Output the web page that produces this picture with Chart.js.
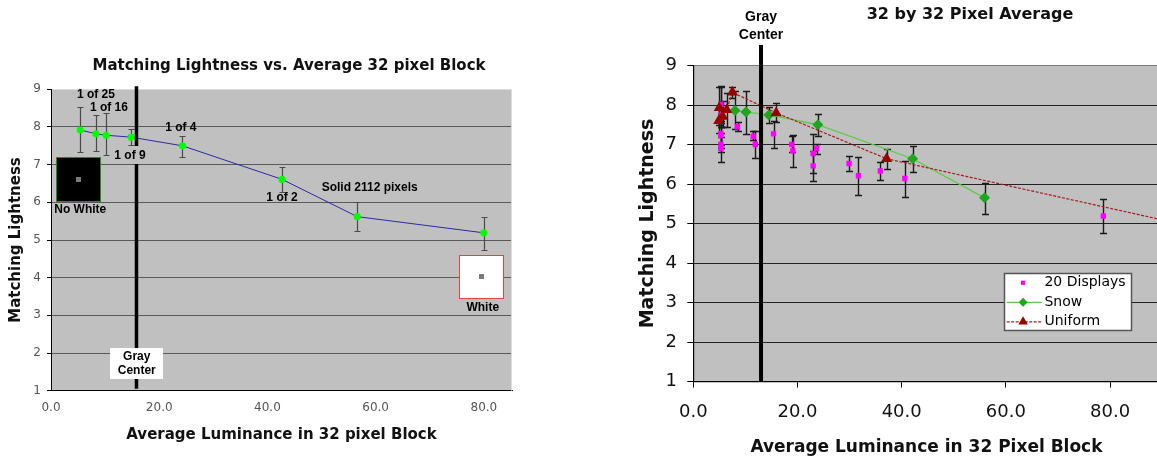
<!DOCTYPE html>
<html><head><meta charset="utf-8">
<script src="https://cdn.jsdelivr.net/npm/chart.js@4.4.1/dist/chart.umd.min.js"></script>
<style>
html,body{margin:0;padding:0;background:#fff;width:1157px;height:460px;overflow:hidden;position:relative}
#c1{position:absolute;left:0;top:0}
#c2{position:absolute;left:600px;top:0}
</style></head><body>
<canvas id="c1" width="578" height="460"></canvas>
<canvas id="c2" width="740" height="460"></canvas>
<script>
// ---------- Left chart data ----------
const leftLum   = [5.4, 8.3, 10.2, 14.8, 24.3, 42.7, 56.6, 80.0];
const leftLight = [7.92, 7.82, 7.78, 7.73, 7.50, 6.61, 5.62, 5.19];
const leftHigh  = [8.52, 8.31, 8.36, 7.94, 7.77, 6.93, 6.02, 5.61];
const leftLow   = [7.33, 7.35, 7.25, 7.52, 7.19, 6.28, 5.23, 4.73];
const leftNotes = ['1 of 25', '1 of 16', '1 of 9', '1 of 4', '1 of 2', 'Solid 2112 pixels', 'No White', 'White', 'Gray\nCenter'];

// ---------- Right chart data ----------
const displaysLum   = [5.3, 5.3, 5.3, 5.3, 5.3, 5.3, 8.5, 11.5, 11.9, 15.4, 18.9, 19.1, 23.0, 23.0, 23.7, 29.9, 31.7, 35.9, 40.6, 78.7];
const displaysLight = [8.02, 7.75, 7.28, 7.22, 7.01, 6.90, 7.45, 7.21, 7.00, 7.27, 7.00, 6.84, 6.77, 6.46, 6.90, 6.52, 6.21, 6.33, 6.14, 5.19];
const displaysHigh  = [8.47, 8.45, 7.55, 7.45, 7.30, 7.20, 7.58, 7.34, 7.33, 7.60, 7.22, 7.25, 7.26, 6.83, 7.02, 6.70, 6.68, 6.55, 6.58, 5.63];
const displaysLow   = [7.60, 7.45, 7.00, 6.90, 6.80, 6.56, 7.34, 7.12, 6.66, 6.92, 6.80, 6.43, 6.28, 6.08, 6.75, 6.33, 5.72, 6.10, 5.68, 4.76];

const snowLum   = [8.0, 10.1, 14.5, 23.9, 42.1, 55.9];
const snowLight = [7.86, 7.82, 7.75, 7.50, 6.64, 5.65];
const snowHigh  = [8.35, 8.36, 7.96, 7.78, 6.96, 6.02];
const snowLow   = [7.38, 7.26, 7.55, 7.21, 6.31, 5.25];

const uniformLum   = [4.9, 5.0, 5.65, 6.4, 7.5, 15.9, 37.1, 100];
const uniformLight = [7.60, 7.93, 7.71, 7.88, 8.32, 7.80, 6.64, 4.80];
const uniformHigh  = [7.90, 8.45, 8.10, 8.30, 8.45, 8.05, 6.88, null];
const uniformLow   = [7.30, 7.50, 7.45, 7.45, 8.18, 7.58, 6.38, null];

const seriesNames = ['20 Displays', 'Snow', 'Uniform'];
const leftTitle  = 'Matching Lightness vs. Average 32 pixel Block';
const rightTitle = '32 by 32 Pixel Average';
const yTitle = 'Matching Lightness';
const leftXTitle  = 'Average Luminance in 32 pixel Block';
const rightXTitle = 'Average Luminance in 32 Pixel Block';

const pts = (xs, ys) => xs.map((x, i) => ({x, y: ys[i]}));

// ---------- plugins ----------
const plotBg = {
  id: 'plotBg',
  beforeDraw(chart, args, o) {
    const {ctx, chartArea: a} = chart;
    ctx.save();
    ctx.fillStyle = o.color;
    ctx.fillRect(a.left, a.top, a.right - a.left, a.bottom - a.top);
    ctx.restore();
  },
  beforeDatasetsDraw(chart, args, o) {
    if (!o.edge) return;
    const {ctx, chartArea: a} = chart;
    ctx.save();
    ctx.strokeStyle = o.edge; ctx.lineWidth = 1;
    ctx.beginPath(); ctx.moveTo(Math.round(a.right) - 0.5, a.top); ctx.lineTo(Math.round(a.right) - 0.5, a.bottom); ctx.stroke();
    ctx.restore();
  }
};

const errorBars = {
  id: 'errorBars',
  beforeDatasetsDraw(chart, args, o) {
    const {ctx} = chart; const ys = chart.scales.y;
    ctx.save();
    ctx.strokeStyle = o.color; ctx.lineWidth = o.width;
    o.sets.forEach(s => {
      const meta = chart.getDatasetMeta(s.dataset);
      meta.data.forEach((pt, i) => {
        const hi = s.high[i], lo = s.low[i];
        if (hi == null || lo == null) return;
        const x = Math.round(pt.x) + 0.5;
        const y1 = Math.round(ys.getPixelForValue(hi)) + 0.5, y2 = Math.round(ys.getPixelForValue(lo)) + 0.5;
        ctx.beginPath();
        ctx.moveTo(x, y1); ctx.lineTo(x, y2);
        ctx.moveTo(x - o.cap, y1); ctx.lineTo(x + o.cap, y1);
        ctx.moveTo(x - o.cap, y2); ctx.lineTo(x + o.cap, y2);
        ctx.stroke();
      });
    });
    ctx.restore();
  }
};

const notes = {
  id: 'notes',
  afterDatasetsDraw(chart, args, o) {
    const {ctx} = chart; const xs = chart.scales.x, ys = chart.scales.y;
    const px = v => xs.getPixelForValue(v), py = v => ys.getPixelForValue(v);
    ctx.save();
    (o.lines || []).forEach(l => {
      ctx.strokeStyle = l.color; ctx.lineWidth = l.width;
      ctx.beginPath(); ctx.moveTo(px(l.x), py(l.y1)); ctx.lineTo(px(l.x), py(l.y2)); ctx.stroke();
    });
    (o.boxes || []).forEach(b => {
      const x1 = Math.round(px(b.x1)), x2 = Math.round(px(b.x2)), y1 = Math.round(py(b.y1)), y2 = Math.round(py(b.y2));
      ctx.fillStyle = b.fill; ctx.fillRect(x1, y1, x2 - x1, y2 - y1);
      if (b.stroke) { ctx.strokeStyle = b.stroke; ctx.lineWidth = 1; ctx.strokeRect(x1 + 0.5, y1 + 0.5, x2 - x1 - 1, y2 - y1 - 1); }
      if (b.dot) { const cx = Math.round((x1 + x2) / 2), cy = Math.round((y1 + y2) / 2); ctx.fillStyle = b.dot; ctx.fillRect(cx - 3, cy - 3, 5, 5); }
    });
    (o.labels || []).forEach(t => {
      ctx.font = t.font; ctx.fillStyle = t.color || '#000';
      ctx.textAlign = 'center'; ctx.textBaseline = 'middle';
      const lines = t.text.split('\n');
      lines.forEach((s, k) => ctx.fillText(s, px(t.x), py(t.y) + (k - (lines.length - 1) / 2) * (t.lh || 14)));
    });
    if (o.legend) {
      const L = o.legend;
      const x1 = Math.round(px(L.x1)), x2 = Math.round(px(L.x2)), y1 = Math.round(py(L.y1)), y2 = Math.round(py(L.y2));
      ctx.fillStyle = '#fff'; ctx.fillRect(x1, y1, x2 - x1, y2 - y1);
      ctx.strokeStyle = '#555'; ctx.lineWidth = 1.5; ctx.strokeRect(x1 + 0.5, y1 + 0.5, x2 - x1 - 1, y2 - y1 - 1);
      chart.data.datasets.forEach((ds, i) => {
        const yy = py(L.rows[i]);
        if (ds.showLine) {
          ctx.save();
          ctx.strokeStyle = ds.borderColor; ctx.lineWidth = ds.borderWidth;
          ctx.setLineDash(ds.borderDash || []);
          ctx.beginPath(); ctx.moveTo(px(L.lineFrom), yy); ctx.lineTo(px(L.lineTo), yy); ctx.stroke();
          ctx.restore();
        }
        ctx.fillStyle = ds.pointBackgroundColor; ctx.strokeStyle = ds.pointBorderColor;
        Chart.helpers.drawPoint(ctx, {pointStyle: ds.pointStyle, rotation: 0, radius: L.radius[i], borderWidth: 0}, px(L.marker), yy);
        ctx.fillStyle = '#000'; ctx.font = L.font; ctx.textAlign = 'left'; ctx.textBaseline = 'middle';
        ctx.fillText(ds.label, px(L.text), yy);
      });
    }
    ctx.restore();
  }
};

const sans = 'DejaVu Sans';
const annFont = 'bold 12px "Liberation Sans", Arial, sans-serif';
const spacer = w => ({ position: 'right', display: true, ticks: { display: false }, grid: { display: false, drawTicks: false }, border: { display: false }, afterFit: s => { s.width = w; } });

// ---------- Left chart ----------
new Chart(document.getElementById('c1'), {
  type: 'scatter',
  data: { datasets: [{
    label: 'Snow', data: pts(leftLum, leftLight), showLine: true,
    borderColor: '#2a2aa6', borderWidth: 1, tension: 0,
    pointStyle: 'circle', pointRadius: 3.6, pointBackgroundColor: '#00ff00', pointBorderColor: '#00ff00', pointBorderWidth: 0
  }]},
  plugins: [plotBg, errorBars, notes],
  options: {
    responsive: false, animation: false, events: [],
    layout: { padding: 0 },
    plugins: {
      legend: { display: false }, tooltip: { enabled: false },
      title: { display: true, text: leftTitle, color: '#111', font: { family: sans, size: 15, weight: 'bold', lineHeight: 1.2 }, padding: { top: 57, bottom: 14.3 } },
      plotBg: { color: '#c0c0c0', edge: '#dcdcdc' },
      errorBars: { color: '#4a4a4a', width: 1.2, cap: 3, sets: [{ dataset: 0, high: leftHigh, low: leftLow }] },
      notes: {
        lines: [{ x: 15.8, y1: 9.08, y2: 1.05, width: 3.5, color: '#000' }],
        boxes: [
          { x1: 11.27, x2: 17.92, y1: 7.50, y2: 7.02, fill: '#c0c0c0' },
          { x1: 10.9, x2: 20.7, y1: 2.13, y2: 1.31, fill: '#fff' },
          { x1: 0.92, x2: 9.24, y1: 7.20, y2: 6.01, fill: '#000', stroke: '#1f8f1f', dot: '#7a7a7a' },
          { x1: 75.4, x2: 83.7, y1: 4.60, y2: 3.43, fill: '#fff', stroke: '#e04545', dot: '#7a7a7a' }
        ],
        labels: [
          { text: leftNotes[0], x: 8.3, y: 8.87, font: annFont },
          { text: leftNotes[1], x: 10.7, y: 8.50, font: annFont },
          { text: leftNotes[2], x: 14.6, y: 7.24, font: annFont },
          { text: leftNotes[3], x: 24.0, y: 7.97, font: annFont },
          { text: leftNotes[4], x: 42.7, y: 6.11, font: annFont },
          { text: leftNotes[5], x: 58.9, y: 6.38, font: annFont },
          { text: leftNotes[6], x: 5.4, y: 5.80, font: annFont },
          { text: leftNotes[7], x: 79.8, y: 3.20, font: annFont },
          { text: leftNotes[8], x: 15.85, y: 1.71, font: annFont, lh: 14 }
        ]
      }
    },
    scales: {
      x: {
        type: 'linear', min: 0, max: 85.2,
        ticks: { stepSize: 20, includeBounds: false, maxRotation: 0, padding: 10, color: '#555', font: { family: sans, size: 12 }, callback: v => v.toFixed(1) },
        grid: { display: false, drawTicks: false },
        border: { display: true, color: '#000', width: 1 },
        title: { display: true, text: leftXTitle, color: '#111', font: { family: sans, size: 15, weight: 'bold', lineHeight: 1.2 }, padding: { top: 0, bottom: 16 } },
        afterFit: s => { s.height = 69.3; }
      },
      y: {
        type: 'linear', min: 1, max: 9,
        ticks: { stepSize: 1, padding: 6, color: '#555', font: { family: sans, size: 12 } },
        grid: { color: c => (c.tick && c.tick.value === 9) ? '#dcdcdc' : '#5a5a5a', lineWidth: 1, drawTicks: true, tickLength: 4, tickColor: '#000' },
        border: { display: true, color: '#000', width: 1 },
        title: { display: true, text: yTitle, color: '#111', font: { family: sans, size: 15, weight: 'bold', lineHeight: 1.2 }, padding: { top: 7, bottom: 0 } },
        afterFit: s => { s.width = 51; }
      },
      yR: spacer(66)
    }
  }
});

// ---------- Right chart ----------
new Chart(document.getElementById('c2'), {
  type: 'scatter',
  data: { datasets: [
    { label: seriesNames[0], data: pts(displaysLum, displaysLight), showLine: false, order: 2,
      pointStyle: 'rect', pointRadius: 3.8, pointBackgroundColor: '#ff00ff', pointBorderColor: '#ff00ff', pointBorderWidth: 0 },
    { label: seriesNames[1], data: pts(snowLum, snowLight), showLine: true, order: 1,
      borderColor: '#5ccc48', borderWidth: 1.3, tension: 0,
      pointStyle: 'rectRot', pointRadius: 5.5, pointBackgroundColor: '#1fa51f', pointBorderColor: '#1fa51f', pointBorderWidth: 0 },
    { label: seriesNames[2], data: pts(uniformLum, uniformLight), showLine: true, order: 0,
      borderColor: '#a81c1c', borderWidth: 1.2, borderDash: [3, 1.5], tension: 0,
      pointStyle: 'triangle', pointRadius: 6.5, pointBackgroundColor: '#990000', pointBorderColor: '#990000', pointBorderWidth: 0 }
  ]},
  plugins: [plotBg, errorBars, notes],
  options: {
    responsive: false, animation: false, events: [],
    layout: { padding: 0 },
    plugins: {
      legend: { display: false }, tooltip: { enabled: false },
      title: { display: true, text: rightTitle, color: '#111', font: { family: sans, size: 16, weight: 'bold', lineHeight: 1.2 }, padding: { top: 5.4, bottom: 40.9 } },
      plotBg: { color: '#c0c0c0' },
      errorBars: { color: '#1a1a1a', width: 1.4, cap: 3.5, sets: [
        { dataset: 0, high: displaysHigh, low: displaysLow },
        { dataset: 1, high: snowHigh, low: snowLow },
        { dataset: 2, high: uniformHigh, low: uniformLow }
      ] },
      notes: {
        lines: [{ x: 13.0, y1: 9.52, y2: 1.0, width: 4, color: '#000' }],
        labels: [
          { text: 'Gray\nCenter', x: 13.0, y: 10.0, font: 'bold 14px "Liberation Sans", Arial, sans-serif', lh: 18 }
        ],
        legend: {
          x1: 59.6, x2: 84.2, y1: 3.75, y2: 2.28,
          rows: [3.50, 3.005, 2.51], marker: 63.3, lineFrom: 60.15, lineTo: 66.9, text: 67.4,
          radius: [3, 4.5, 5.5], font: '14px "DejaVu Sans"'
        }
      }
    },
    scales: {
      x: {
        type: 'linear', min: 0, max: 89.5,
        ticks: { stepSize: 20, includeBounds: false, maxRotation: 0, padding: 13.7, color: '#111', font: { family: sans, size: 18 }, callback: v => v.toFixed(1) },
        grid: { display: true, drawOnChartArea: false, drawTicks: true, tickLength: 6, tickColor: '#000' },
        border: { display: true, color: '#000', width: 1.2 },
        title: { display: true, text: rightXTitle, color: '#111', font: { family: sans, size: 17, weight: 'bold', lineHeight: 1.2 }, padding: { top: 0, bottom: 1.8 } },
        afterFit: s => { s.height = 78.5; }
      },
      y: {
        type: 'linear', min: 1, max: 9,
        ticks: { stepSize: 1, padding: 10.3, color: '#111', font: { family: sans, size: 18 } },
        grid: { color: c => (c.tick && c.tick.value === 9) ? '#7a7a7a' : '#222', lineWidth: 1, drawTicks: true, tickLength: 6, tickColor: '#000' },
        border: { display: true, color: '#000', width: 1.2 },
        title: { display: true, text: yTitle, color: '#111', font: { family: sans, size: 19, weight: 'bold', lineHeight: 1.2 }, padding: { top: 36.6, bottom: 0 } },
        afterFit: s => { s.width = 93.3; }
      },
      yR: spacer(180.4)
    }
  }
});
</script>
</body></html>
